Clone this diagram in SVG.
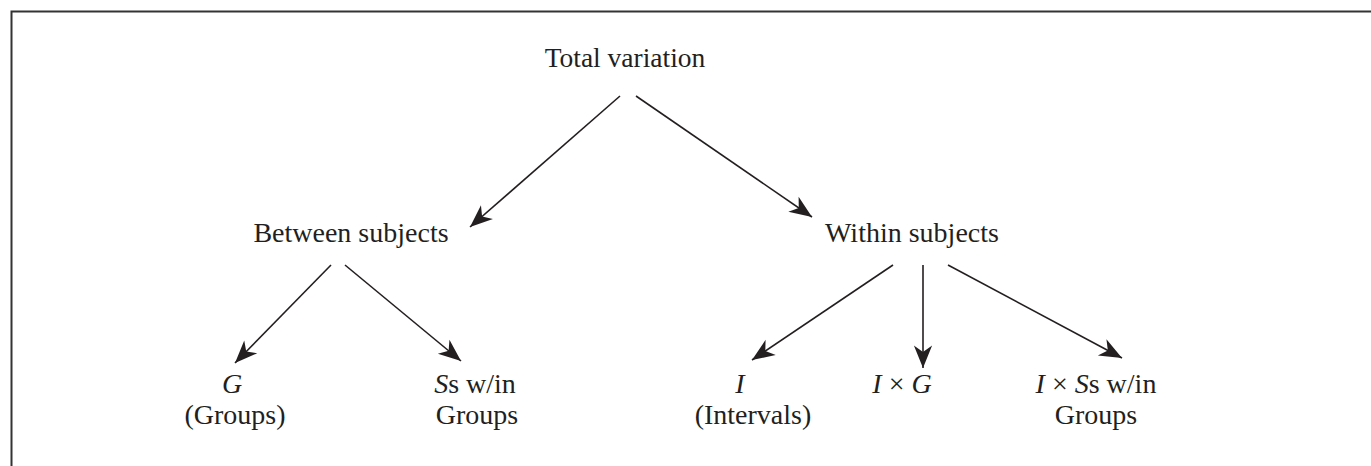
<svg xmlns="http://www.w3.org/2000/svg" width="1371" height="466" viewBox="0 0 1371 466">
<style>
text{font-family:"Liberation Serif","Times New Roman",serif;font-size:28px;fill:#231f20;text-anchor:middle}
.i{font-style:italic}
.c{stroke:#231f20;stroke-width:1.6;fill:none}
</style>
<defs>
<marker id="ah" markerUnits="userSpaceOnUse" markerWidth="30" markerHeight="30" viewBox="-24 -12 28 24" refX="0" refY="0" orient="auto">
<path d="M0,0 L-21,-8.5 L-15,0 L-21,8.5 Z" fill="#231f20"/>
</marker>
</defs>
<rect width="1371" height="466" fill="#fff"/>
<path d="M11.5,466 V11.5 H1371" stroke="#333" stroke-width="2" fill="none"/>
<g id="connectors">
<line class="c" x1="620" y1="96" x2="470" y2="227" marker-end="url(#ah)"/>
<line class="c" x1="636" y1="96" x2="812" y2="217" marker-end="url(#ah)"/>
<line class="c" x1="331" y1="265" x2="235" y2="363" marker-end="url(#ah)"/>
<line class="c" x1="345" y1="265" x2="461" y2="361" marker-end="url(#ah)"/>
<line class="c" x1="893" y1="265" x2="752" y2="360" marker-end="url(#ah)"/>
<line class="c" x1="923" y1="265" x2="923" y2="368" marker-end="url(#ah)"/>
<line class="c" x1="948" y1="265" x2="1122" y2="358" marker-end="url(#ah)"/>
</g>
<g id="total"><text x="625" y="67" style="font-size:27.5px">Total variation</text></g>
<g id="between"><text x="351" y="242">Between subjects</text></g>
<g id="within"><text x="912" y="242">Within subjects</text></g>
<g id="g"><text x="232" y="393" class="i">G</text><text x="235" y="424">(Groups)</text></g>
<g id="ss"><text x="475" y="393"><tspan class="i">S</tspan>s w/in</text><text x="477" y="424">Groups</text></g>
<g id="i"><text x="740" y="393" class="i">I</text><text x="753" y="424">(Intervals)</text></g>
<g id="ixg"><text x="902" y="393"><tspan class="i">I</tspan> × <tspan class="i">G</tspan></text></g>
<g id="ixss"><text x="1096" y="393"><tspan class="i">I</tspan> × <tspan class="i">S</tspan>s w/in</text><text x="1096" y="424">Groups</text></g>
</svg>
